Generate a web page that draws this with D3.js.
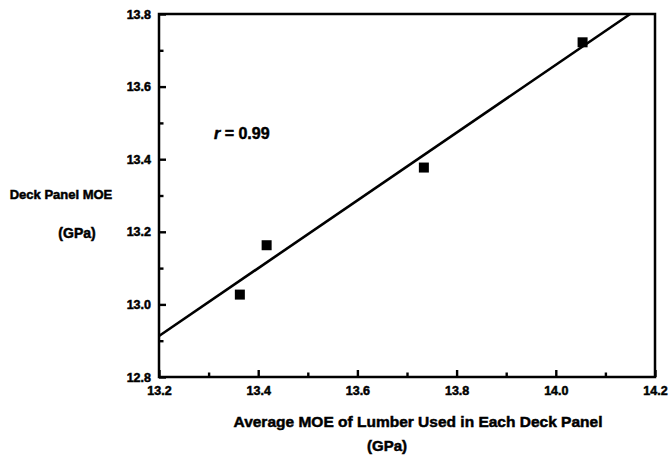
<!DOCTYPE html>
<html><head><meta charset="utf-8">
<script src="https://cdn.jsdelivr.net/npm/d3@7"></script>
<style>body{margin:0;background:#fff}svg{display:block}text{font-family:"Liberation Sans",Arial,sans-serif;font-weight:bold;fill:#000;stroke:#000;stroke-width:0.5px}</style>
</head><body><svg id="c" width="670" height="461"></svg>
<script>
const lumberMOE = [13.363, 13.417, 13.734, 14.054];
const panelMOE  = [13.027, 13.163, 13.377, 13.722];
const fitX = [13.2, 14.15];
const fitY = [12.913, 13.8];
const xTicks = [13.2, 13.4, 13.6, 13.8, 14.0, 14.2];
const yTicks = [12.8, 13.0, 13.2, 13.4, 13.6, 13.8];
const xMinor = [13.3, 13.5, 13.7, 13.9, 14.1];
const yMinor = [12.9, 13.1, 13.3, 13.5, 13.7];

const svg = d3.select("#c");
const L=159, R=655, T=14, B=377;
const x = d3.scaleLinear().domain([13.2,14.2]).range([L,R]);
const y = d3.scaleLinear().domain([12.8,13.8]).range([B,T]);

svg.append("rect").attr("x",L).attr("y",T).attr("width",R-L).attr("height",B-T)
  .attr("fill","none").attr("stroke","#000").attr("stroke-width",2.5);

const xa = svg.append("g").attr("transform",`translate(0,${B})`)
  .call(d3.axisBottom(x).tickValues(xTicks).tickSize(-7).tickFormat(d3.format(".1f")));
xa.select(".domain").remove();
xa.selectAll("line").attr("stroke","#000").attr("stroke-width",2.4);
xa.selectAll("text").attr("y",9).attr("font-size",12.5);
svg.append("g").attr("transform",`translate(0,${B})`)
  .call(d3.axisBottom(x).tickValues(xMinor).tickSize(-4.5).tickFormat(""))
  .call(g=>{g.select(".domain").remove();g.selectAll("line").attr("stroke","#000").attr("stroke-width",2.4);});

const ya = svg.append("g").attr("transform",`translate(${L},0)`)
  .call(d3.axisLeft(y).tickValues(yTicks).tickSize(-7).tickFormat(d3.format(".1f")));
ya.select(".domain").remove();
ya.selectAll("line").attr("stroke","#000").attr("stroke-width",2.4);
ya.selectAll("text").attr("x",-8).attr("font-size",12.5);
svg.append("g").attr("transform",`translate(${L},0)`)
  .call(d3.axisLeft(y).tickValues(yMinor).tickSize(-4.5).tickFormat(""))
  .call(g=>{g.select(".domain").remove();g.selectAll("line").attr("stroke","#000").attr("stroke-width",2.4);});

svg.append("line").attr("x1",x(fitX[0])).attr("y1",y(fitY[0])).attr("x2",x(fitX[1])).attr("y2",y(fitY[1]))
  .attr("stroke","#000").attr("stroke-width",2.6);

const s=10;
svg.selectAll("rect.pt").data(lumberMOE).enter().append("rect").attr("class","pt")
  .attr("x",(d)=>x(d)-s/2).attr("y",(d,i)=>y(panelMOE[i])-s/2).attr("width",s).attr("height",s).attr("fill","#000");

const t = svg.append("text").attr("x",214).attr("y",139).attr("font-size",16);
t.append("tspan").attr("font-style","italic").text("r");
t.append("tspan").text(" = 0.99");

svg.append("text").attr("x",61).attr("y",199).attr("text-anchor","middle").attr("font-size",13).text("Deck Panel MOE");
svg.append("text").attr("x",77).attr("y",238).attr("text-anchor","middle").attr("font-size",14).text("(GPa)");
svg.append("text").attr("x",418).attr("y",427).attr("text-anchor","middle").attr("font-size",15.5).text("Average MOE of Lumber Used in Each Deck Panel");
svg.append("text").attr("x",387).attr("y",451).attr("text-anchor","middle").attr("font-size",15).text("(GPa)");
</script></body></html>
